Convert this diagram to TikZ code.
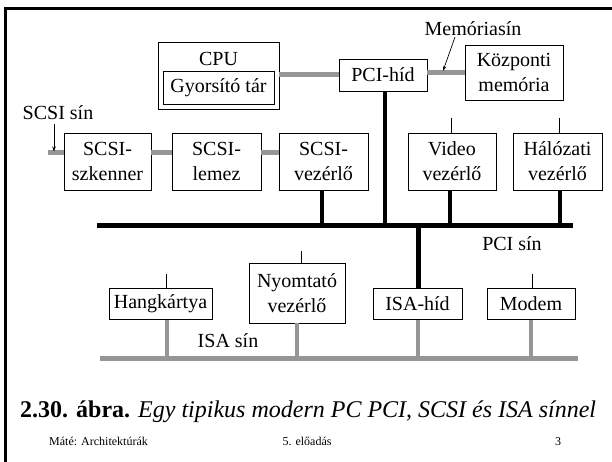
\documentclass[tikz,border=0pt]{standalone}
\usepackage{fontspec}
\setmainfont{Liberation Serif}
\usetikzlibrary{arrows.meta}
\definecolor{busgray}{RGB}{150,150,150}
\begin{document}
\begin{tikzpicture}[x=1pt,y=-1pt,
  box/.style={draw,line width=0.9pt,inner sep=0pt,align=center,font=\fontsize{20}{25}\selectfont},
  lbl/.style={inner sep=0pt,font=\fontsize{20}{24}\selectfont},
  graybus/.style={draw=busgray,line width=5pt},
  blackbus/.style={draw=black,line width=5pt},
  blackdrop/.style={draw=black,line width=4.5pt},
  graydrop/.style={draw=busgray,line width=4.5pt},
  stub/.style={draw=black,line width=0.9pt},
  pointer/.style={draw=black,line width=0.7pt,-{Stealth[length=5pt,width=3.5pt]}},
  foot/.style={inner sep=0pt,anchor=base,font=\fontsize{12}{14}\selectfont}]
\useasboundingbox (0,0) rectangle (612,462);

% slide frame (only its top and left edges fall inside the page)
\begin{scope}
  \clip (0,0) rectangle (612,462);
  \draw[line width=3pt] (5.5,8.3) rectangle (700,600);
\end{scope}

% upper row: CPU, bridge, memory
\node[box,minimum width=121pt,minimum height=67pt] (cpu) at (218.5,75.5) {};
\node[lbl] (cputxt) at (218.5,58.5) {CPU};
\node[box,minimum width=111pt,minimum height=33pt] (cache) at (218.5,87.5) {Gyorsító tár};
\node[box,minimum width=88pt,minimum height=32pt] (pcih) at (383,75) {PCI-híd};
\node[box,minimum width=98pt,minimum height=55pt] (mem) at (514,72.5) {Központi\\memória};

% SCSI chain and PCI devices
\node[box,minimum width=87pt,minimum height=57pt] (scan) at (107.5,161.5) {SCSI-\\szkenner};
\node[box,minimum width=89pt,minimum height=57pt] (disk) at (216.5,161.5) {SCSI-\\lemez};
\node[box,minimum width=89pt,minimum height=57pt] (scsic) at (323.5,161.5) {SCSI-\\vezérlő};
\node[box,minimum width=88pt,minimum height=57pt] (video) at (452,161.5) {Video\\vezérlő};
\node[box,minimum width=89pt,minimum height=57pt] (net) at (557.5,161.5) {Hálózati\\vezérlő};

% ISA devices
\node[box,minimum width=103pt,minimum height=31pt] (sound) at (160.5,304) {Hangkártya};
\node[box,minimum width=96pt,minimum height=60pt] (print) at (297,293) {Nyomtató\\vezérlő};
\node[box,minimum width=89pt,minimum height=31pt] (isah) at (417.5,304) {ISA-híd};
\node[box,minimum width=88pt,minimum height=31pt] (modem) at (531,304) {Modem};

% memory bus and CPU link
\coordinate (memY) at (0,73);
\draw[graybus] (cpu.east |- pcih) -- (pcih.west);
\draw[graybus] (pcih.east |- memY) -- (mem.west |- memY);

% SCSI bus
\coordinate (scsiL) at (48,153);
\draw[graybus] (scsiL) -- (scan.west |- scsiL);
\draw[graybus] (scan.east |- scsiL) -- (disk.west |- scsiL);
\draw[graybus] (disk.east |- scsiL) -- (scsic.west |- scsiL);

% PCI bus and its drops
\coordinate (pciL) at (97,225.5);
\coordinate (pciR) at (573,225.5);
\draw[blackbus] (pciL) -- (pciR);
\coordinate (dScsi) at (322,0);
\coordinate (dBridge) at (385,0);
\coordinate (dVideo) at (450,0);
\coordinate (dNet) at (560,0);
\coordinate (dIsa) at (418.5,0);
\draw[blackdrop] (dScsi |- scsic.south) -- (dScsi |- pciL);
\draw[blackdrop] (dBridge |- pcih.south) -- (dBridge |- pciL);
\draw[blackdrop] (dVideo |- video.south) -- (dVideo |- pciL);
\draw[blackdrop] (dNet |- net.south) -- (dNet |- pciL);
\draw[blackdrop] (dIsa |- pciL) -- (dIsa |- isah.north);

% ISA bus and its drops
\coordinate (isaL) at (100,358.5);
\coordinate (isaR) at (578,358.5);
\draw[graybus] (isaL) -- (isaR);
\coordinate (gSound) at (167,0);
\coordinate (gPrint) at (297,0);
\coordinate (gIsa) at (418,0);
\coordinate (gModem) at (531,0);
\draw[graydrop] (gSound |- sound.south) -- (gSound |- isaL);
\draw[graydrop] (gPrint |- print.south) -- (gPrint |- isaL);
\draw[graydrop] (gIsa |- isah.south) -- (gIsa |- isaL);
\draw[graydrop] (gModem |- modem.south) -- (gModem |- isaL);

% short connector stubs on top of cards
\coordinate (tVideo) at (451,118);
\coordinate (tNet) at (559,118);
\coordinate (tSound) at (166,274);
\coordinate (tPrint) at (301,251);
\coordinate (tModem) at (532,274);
\draw[stub] (tVideo) -- (tVideo |- video.north);
\draw[stub] (tNet) -- (tNet |- net.north);
\draw[stub] (tSound) -- (tSound |- sound.north);
\draw[stub] (tPrint) -- (tPrint |- print.north);
\draw[stub] (tModem) -- (tModem |- modem.north);

% bus labels
\node[lbl] (memlbl) at (473,29) {Memóriasín};
\coordinate (memTail) at (455,37);
\coordinate (memTip) at (443,71);
\draw[pointer] (memTail) -- (memTip);
\node[lbl] (scsilbl) at (58,113) {SCSI sín};
\coordinate (scsiTail) at (54,124);
\coordinate (scsiTip) at (54,151.5);
\draw[pointer] (scsiTail) -- (scsiTip);
\node[lbl] (pcilbl) at (512,243.5) {PCI sín};
\node[lbl] (isalbl) at (228,341) {ISA sín};

% caption and footer
\node[inner sep=0pt,anchor=base west,font=\fontsize{24}{28}\selectfont] (caption) at (20,417)
  {\textbf{2.30. ábra.} \textit{Egy tipikus modern PC PCI, SCSI és ISA sínnel}};
\node[foot,anchor=base west] (author) at (49,445) {Máté: Architektúrák};
\node[foot] (lecture) at (307,445) {5. előadás};
\node[foot] (page) at (558,445) {3};
\end{tikzpicture}
\end{document}
